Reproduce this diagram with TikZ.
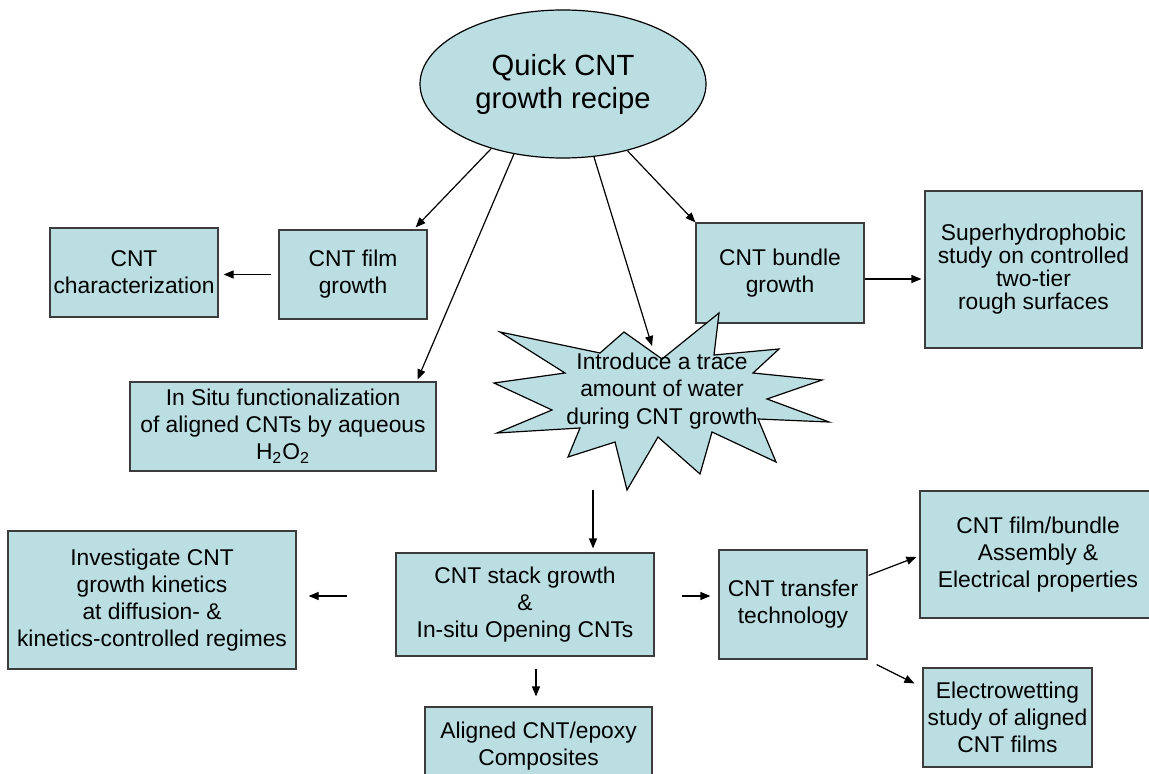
\documentclass[tikz,border=0pt]{standalone}
\usepackage{fontspec}
\setmainfont{Liberation Sans}
\usepackage{tikz}
\usetikzlibrary{arrows.meta, shapes.geometric}
\usepackage{xcolor}
\definecolor{paleteal}{RGB}{187,222,226}
\definecolor{edgegray}{RGB}{60,60,60}

\begin{document}
\begin{tikzpicture}[x=0.5pt,y=-0.5pt,line width=0.6pt,>={Triangle[length=5pt,width=4pt]}]
  \tikzstyle{topic}=[draw=edgegray,fill=paleteal,rectangle,inner sep=0pt,align=center,font=\fontsize{11.4}{13.5}\selectfont]
  \tikzstyle{goal}=[draw=black,fill=paleteal,ellipse,inner sep=0pt,align=center,font=\fontsize{14.6}{16.5}\selectfont]

  \useasboundingbox (0,0) rectangle (1149,774);
  \clip (0,0) rectangle (1149,774);

  \node[goal,minimum width=143pt,minimum height=74pt]  (recipe)     at (563,84)      {Quick CNT\\growth recipe};
  \node[topic,minimum width=84pt,minimum height=44.5pt] (charact)   at (134,272.5)   {CNT\\characterization};
  \node[topic,minimum width=74pt,minimum height=44.5pt] (film)      at (353,274.5)   {CNT film\\growth};
  \node[topic,minimum width=153pt,minimum height=44.5pt] (insitu)   at (283,426.5)   {In Situ functionalization\\of aligned CNTs by aqueous\\H\textsubscript{2}O\textsubscript{2}};
  \node[topic,minimum width=84pt,minimum height=50pt]   (bundle)    at (780,273)     {CNT bundle\\growth};
  \node[topic,minimum width=108.5pt,minimum height=78.5pt,font=\fontsize{11.4}{11.5}\selectfont]
                                                        (super)     at (1033.5,269.5) {Superhydrophobic\\study on controlled\\two-tier\\rough surfaces};

  % water burst
  \draw[draw=black,fill=paleteal]
    (500,332) -- (600,353) -- (624,332) -- (662,359) -- (719,313) -- (714,355)
    -- (779,349) -- (753,373) -- (822,380) -- (767,399) -- (829,422) -- (758,419)
    -- (776,462) -- (712,432) -- (700,474) -- (658,437) -- (627,490) -- (615,442)
    -- (568,457) -- (580,428) -- (497,433) -- (552,410) -- (494,383) -- (565,373)
    -- cycle;
  \node[align=center,inner sep=0pt,font=\fontsize{11.4}{13.8}\selectfont]
                                                        (burst)     at (662,391)     {Introduce a trace\\amount of water\\during CNT growth};
  \coordinate (burstin)  at (652,346);
  \coordinate (burstout) at (593,490);

  \node[topic,minimum width=144pt,minimum height=69pt]  (kinetics)  at (152,600)     {Investigate CNT\\growth kinetics\\at diffusion- \&\\kinetics-controlled regimes};
  \node[topic,minimum width=129pt,minimum height=51.5pt] (stack)    at (525,604.5)   {CNT stack growth\\\&\\In-situ Opening CNTs};
  \node[topic,minimum width=113.5pt,minimum height=39pt] (aligned)  at (538.5,746)   {Aligned CNT/epoxy\\Composites};
  \node[topic,minimum width=74pt,minimum height=54.5pt] (transfer)  at (793,604.5)   {CNT transfer\\technology};
  \node[topic,minimum width=118pt,minimum height=63.5pt] (assembly) at (1038,554.5)  {CNT film/bundle\\Assembly \&\\Electrical properties};
  \node[topic,minimum width=84.5pt,minimum height=49.5pt] (wetting)  at (1007.5,717.5) {Electrowetting\\study of aligned\\CNT films};

  \path[->]
  (recipe.222)                           edge ([shift={(-12,-2)}]film.north east)
  (recipe.235)                           edge ([shift={(-19,-2)}]insitu.north east)
  (recipe.293)                           edge (burstin)
  (recipe.314)                           edge (bundle.north west)
  ([shift={(-7,0)}]film.west)            edge ([shift={(5,2)}]charact.east)
  ([shift={(0,6)}]bundle.east)           edge ([shift={(-3,9.5)}]super.west)
  (burstout)                             edge ([shift={(68,-4)}]stack.north)
  ([shift={(-48,-8.5)}]stack.west)       edge ([shift={(12,-4)}]kinetics.east)
  ([shift={(11,12)}]stack.south)         edge ([shift={(-2.5,-10)}]aligned.north)
  ([shift={(27,-8.5)}]stack.east)        edge ([shift={(-8,-8.5)}]transfer.west)
  ([shift={(1,26)}]transfer.north east)  edge ([shift={(-3,2.5)}]assembly.west)
  ([shift={(9,5)}]transfer.south east)   edge ([shift={(-8,16)}]wetting.north west)
  ;
\end{tikzpicture}
\end{document}
